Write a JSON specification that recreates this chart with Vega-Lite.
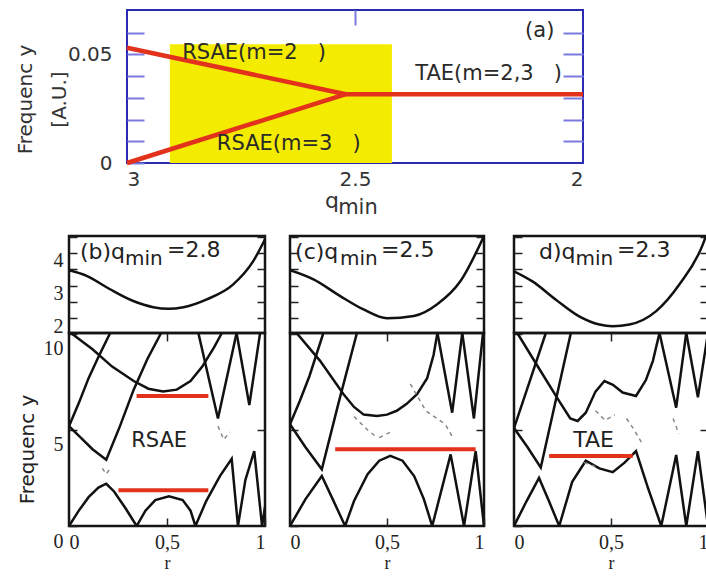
{
"$schema": "https://vega.github.io/schema/vega-lite/v6.json",
"background": "white",
"padding": {"left": 12, "top": 8, "right": 0, "bottom": 0},
"spacing": 13,
"config": {
  "view": {"stroke": "#151515", "strokeWidth": 2.5},
  "axis": {"domain": false, "grid": false, "tickColor": "#222", "tickWidth": 1.5, "labelFont": "Liberation Serif", "labelFontSize": 20, "labelColor": "#222", "labelOverlap": false, "labelBound": false, "titleFont": "DejaVu Sans", "titleFontWeight": "normal", "titleColor": "#222"},
  "text": {"font": "DejaVu Sans", "color": "#222"}
},
"datasets": {
  "aRed": [
    {"s": "u", "q": 3.0, "f": 0.0531}, {"s": "u", "q": 2.52, "f": 0.0317},
    {"s": "l", "q": 3.0, "f": 0.0}, {"s": "l", "q": 2.52, "f": 0.0317},
    {"s": "h", "q": 2.52, "f": 0.0317}, {"s": "h", "q": 2.0, "f": 0.0317}
  ],
  "aText": [
    {"t": "RSAE(m=2\u00a0\u00a0\u00a0)", "q": 2.879, "f": 0.0508},
    {"t": "RSAE(m=3\u00a0\u00a0\u00a0)", "q": 2.803, "f": 0.0086},
    {"t": "TAE(m=2,3\u00a0\u00a0\u00a0)", "q": 2.368, "f": 0.0409},
    {"t": "(a)", "q": 2.127, "f": 0.0608}
  ],
  "bq": [{"r": 0, "q": 3.47}, {"r": 0.09, "q": 3.30}, {"r": 0.209, "q": 2.89}, {"r": 0.328, "q": 2.53}, {"r": 0.43, "q": 2.34}, {"r": 0.507, "q": 2.29}, {"r": 0.584, "q": 2.34}, {"r": 0.703, "q": 2.58}, {"r": 0.838, "q": 3.04}, {"r": 0.94, "q": 3.75}, {"r": 1.0, "q": 4.42}],
  "cq": [{"r": 0, "q": 3.47}, {"r": 0.121, "q": 3.19}, {"r": 0.259, "q": 2.68}, {"r": 0.379, "q": 2.27}, {"r": 0.5, "q": 2.0}, {"r": 0.638, "q": 2.07}, {"r": 0.759, "q": 2.43}, {"r": 0.879, "q": 3.14}, {"r": 1.0, "q": 4.52}],
  "dq": [{"r": 0, "q": 3.44}, {"r": 0.095, "q": 3.13}, {"r": 0.216, "q": 2.57}, {"r": 0.336, "q": 2.06}, {"r": 0.44, "q": 1.81}, {"r": 0.509, "q": 1.76}, {"r": 0.595, "q": 1.81}, {"r": 0.733, "q": 2.22}, {"r": 0.853, "q": 3.04}, {"r": 0.974, "q": 4.27}, {"r": 1.0, "q": 4.7}],
  "bc": [
    {"s": 1, "r": 0, "f": 5.2}, {"s": 1, "r": 0.05, "f": 6.4}, {"s": 1, "r": 0.1, "f": 7.7}, {"s": 1, "r": 0.15, "f": 8.8}, {"s": 1, "r": 0.21, "f": 10.05},
    {"s": 2, "r": 0, "f": 5.2}, {"s": 2, "r": 0.06, "f": 4.6}, {"s": 2, "r": 0.12, "f": 4.0}, {"s": 2, "r": 0.19, "f": 3.45}, {"s": 2, "r": 0.26, "f": 5.2}, {"s": 2, "r": 0.33, "f": 7.1}, {"s": 2, "r": 0.4, "f": 8.7}, {"s": 2, "r": 0.47, "f": 10.05},
    {"s": 3, "r": 0.01, "f": 10.05}, {"s": 3, "r": 0.12, "f": 9.2}, {"s": 3, "r": 0.22, "f": 8.3}, {"s": 3, "r": 0.33, "f": 7.55}, {"s": 3, "r": 0.405, "f": 7.15}, {"s": 3, "r": 0.48, "f": 7.0}, {"s": 3, "r": 0.55, "f": 7.1}, {"s": 3, "r": 0.62, "f": 7.55}, {"s": 3, "r": 0.68, "f": 8.3}, {"s": 3, "r": 0.74, "f": 9.3}, {"s": 3, "r": 0.78, "f": 10.05},
    {"s": 4, "r": 0.66, "f": 10.05}, {"s": 4, "r": 0.76, "f": 5.6}, {"s": 4, "r": 0.855, "f": 10.05},
    {"s": 5, "r": 0.855, "f": 10.05}, {"s": 5, "r": 0.92, "f": 6.3}, {"s": 5, "r": 0.975, "f": 10.05},
    {"s": 6, "r": 0, "f": 0}, {"s": 6, "r": 0.05, "f": 0.8}, {"s": 6, "r": 0.1, "f": 1.5}, {"s": 6, "r": 0.15, "f": 2.0}, {"s": 6, "r": 0.19, "f": 2.2}, {"s": 6, "r": 0.23, "f": 1.8}, {"s": 6, "r": 0.29, "f": 0.9}, {"s": 6, "r": 0.345, "f": 0}, {"s": 6, "r": 0.39, "f": 0.8}, {"s": 6, "r": 0.44, "f": 1.35}, {"s": 6, "r": 0.51, "f": 1.55}, {"s": 6, "r": 0.58, "f": 1.35}, {"s": 6, "r": 0.62, "f": 0.8}, {"s": 6, "r": 0.645, "f": 0}, {"s": 6, "r": 0.7, "f": 1.3}, {"s": 6, "r": 0.77, "f": 2.6}, {"s": 6, "r": 0.83, "f": 3.5}, {"s": 6, "r": 0.862, "f": 0}, {"s": 6, "r": 0.9, "f": 2.4}, {"s": 6, "r": 0.945, "f": 3.9}, {"s": 6, "r": 0.985, "f": 0}, {"s": 6, "r": 1.0, "f": 1.0}
  ],
  "cc": [
    {"s": 1, "r": 0, "f": 5.3}, {"s": 1, "r": 0.05, "f": 6.5}, {"s": 1, "r": 0.1, "f": 7.8}, {"s": 1, "r": 0.172, "f": 10.05},
    {"s": 2, "r": 0, "f": 5.3}, {"s": 2, "r": 0.08, "f": 4.1}, {"s": 2, "r": 0.164, "f": 2.95}, {"s": 2, "r": 0.25, "f": 6.4}, {"s": 2, "r": 0.345, "f": 10.05},
    {"s": 3, "r": 0.034, "f": 10.05}, {"s": 3, "r": 0.155, "f": 8.6}, {"s": 3, "r": 0.276, "f": 6.86}, {"s": 3, "r": 0.33, "f": 6.2}, {"s": 3, "r": 0.38, "f": 5.8}, {"s": 3, "r": 0.448, "f": 5.73}, {"s": 3, "r": 0.5, "f": 5.8}, {"s": 3, "r": 0.55, "f": 6.0}, {"s": 3, "r": 0.6, "f": 6.35}, {"s": 3, "r": 0.655, "f": 6.86}, {"s": 3, "r": 0.707, "f": 7.7}, {"s": 3, "r": 0.74, "f": 8.9}, {"s": 3, "r": 0.76, "f": 10.05},
    {"s": 4, "r": 0.76, "f": 10.05}, {"s": 4, "r": 0.836, "f": 5.9}, {"s": 4, "r": 0.888, "f": 10.05},
    {"s": 5, "r": 0.888, "f": 10.05}, {"s": 5, "r": 0.948, "f": 5.6}, {"s": 5, "r": 0.995, "f": 10.05},
    {"s": 6, "r": 0, "f": 0}, {"s": 6, "r": 0.08, "f": 1.4}, {"s": 6, "r": 0.164, "f": 2.6}, {"s": 6, "r": 0.22, "f": 1.4}, {"s": 6, "r": 0.284, "f": 0}, {"s": 6, "r": 0.33, "f": 1.3}, {"s": 6, "r": 0.4, "f": 2.7}, {"s": 6, "r": 0.46, "f": 3.4}, {"s": 6, "r": 0.517, "f": 3.65}, {"s": 6, "r": 0.58, "f": 3.4}, {"s": 6, "r": 0.64, "f": 2.6}, {"s": 6, "r": 0.69, "f": 1.4}, {"s": 6, "r": 0.733, "f": 0}, {"s": 6, "r": 0.828, "f": 3.73}, {"s": 6, "r": 0.897, "f": 0}, {"s": 6, "r": 0.957, "f": 3.9}, {"s": 6, "r": 1.0, "f": 0}
  ],
  "dc": [
    {"s": 1, "r": 0, "f": 5.1}, {"s": 1, "r": 0.08, "f": 7.5}, {"s": 1, "r": 0.164, "f": 10.05},
    {"s": 2, "r": 0, "f": 5.1}, {"s": 2, "r": 0.07, "f": 4.1}, {"s": 2, "r": 0.138, "f": 3.04}, {"s": 2, "r": 0.21, "f": 6.3}, {"s": 2, "r": 0.293, "f": 10.05},
    {"s": 3, "r": 0.017, "f": 10.05}, {"s": 3, "r": 0.129, "f": 8.2}, {"s": 3, "r": 0.233, "f": 6.5}, {"s": 3, "r": 0.29, "f": 5.6}, {"s": 3, "r": 0.328, "f": 5.47}, {"s": 3, "r": 0.37, "f": 5.9}, {"s": 3, "r": 0.42, "f": 7.0}, {"s": 3, "r": 0.466, "f": 7.55}, {"s": 3, "r": 0.51, "f": 7.35}, {"s": 3, "r": 0.56, "f": 6.95}, {"s": 3, "r": 0.629, "f": 6.77}, {"s": 3, "r": 0.68, "f": 7.6}, {"s": 3, "r": 0.716, "f": 8.6}, {"s": 3, "r": 0.75, "f": 10.05},
    {"s": 4, "r": 0.75, "f": 10.05}, {"s": 4, "r": 0.836, "f": 6.16}, {"s": 4, "r": 0.888, "f": 10.05},
    {"s": 5, "r": 0.888, "f": 10.05}, {"s": 5, "r": 0.948, "f": 6.7}, {"s": 5, "r": 1.0, "f": 10.05},
    {"s": 6, "r": 0, "f": 0}, {"s": 6, "r": 0.065, "f": 1.3}, {"s": 6, "r": 0.129, "f": 2.5}, {"s": 6, "r": 0.18, "f": 1.3}, {"s": 6, "r": 0.233, "f": 0}, {"s": 6, "r": 0.3, "f": 2.3}, {"s": 6, "r": 0.37, "f": 3.4}, {"s": 6, "r": 0.44, "f": 3.0}, {"s": 6, "r": 0.509, "f": 2.8}, {"s": 6, "r": 0.57, "f": 3.3}, {"s": 6, "r": 0.629, "f": 3.9}, {"s": 6, "r": 0.69, "f": 2.0}, {"s": 6, "r": 0.759, "f": 0}, {"s": 6, "r": 0.836, "f": 3.7}, {"s": 6, "r": 0.888, "f": 0}, {"s": 6, "r": 0.948, "f": 3.9}, {"s": 6, "r": 1.0, "f": 0}
  ],
  "bd": [
    {"s": 1, "r": 0.76, "f": 5.2}, {"s": 1, "r": 0.79, "f": 4.5}, {"s": 1, "r": 0.82, "f": 4.9},
    {"s": 2, "r": 0.17, "f": 3.0}, {"s": 2, "r": 0.19, "f": 2.7}, {"s": 2, "r": 0.21, "f": 3.0}
  ],
  "cd": [
    {"s": 1, "r": 0.33, "f": 5.7}, {"s": 1, "r": 0.4, "f": 5.0}, {"s": 1, "r": 0.45, "f": 4.6},
    {"s": 2, "r": 0.46, "f": 4.6}, {"s": 2, "r": 0.52, "f": 4.9},
    {"s": 3, "r": 0.62, "f": 7.4}, {"s": 3, "r": 0.7, "f": 6.0}, {"s": 3, "r": 0.8, "f": 5.3}, {"s": 3, "r": 0.84, "f": 4.6}
  ],
  "dd": [
    {"s": 1, "r": 0.42, "f": 6.0}, {"s": 1, "r": 0.47, "f": 5.5}, {"s": 1, "r": 0.52, "f": 5.8},
    {"s": 2, "r": 0.58, "f": 5.6}, {"s": 2, "r": 0.62, "f": 5.0}, {"s": 2, "r": 0.66, "f": 4.3},
    {"s": 3, "r": 0.82, "f": 5.6}, {"s": 3, "r": 0.85, "f": 4.8},
    {"s": 4, "r": 0.36, "f": 3.3}, {"s": 4, "r": 0.42, "f": 3.1}
  ],
  "red": [
    {"p": "b", "r1": 0.345, "r2": 0.711, "f": 6.77},
    {"p": "b", "r1": 0.252, "r2": 0.711, "f": 1.86},
    {"p": "c", "r1": 0.233, "r2": 0.957, "f": 4.0},
    {"p": "d", "r1": 0.181, "r2": 0.612, "f": 3.65}
  ],
  "ctext": [
    {"p": "b", "t": "RSAE", "r": 0.46, "f": 4.43},
    {"p": "d", "t": "TAE", "r": 0.41, "f": 4.5}
  ],
  "qlab": [
    {"p": "b", "t": "(b)q", "r": 0.056, "q": 4.02},
    {"p": "b", "t": "=2.8", "r": 0.5, "q": 4.1},
    {"p": "c", "t": "(c)q", "r": 0.026, "q": 4.02},
    {"p": "c", "t": "=2.5", "r": 0.469, "q": 4.1},
    {"p": "d", "t": "d)q", "r": 0.129, "q": 4.02},
    {"p": "d", "t": "=2.3", "r": 0.531, "q": 4.1}
  ],
  "qsub": [
    {"p": "b", "t": "min", "r": 0.286, "q": 3.82},
    {"p": "c", "t": "min", "r": 0.258, "q": 3.82},
    {"p": "d", "t": "min", "r": 0.317, "q": 3.82}
  ]
},
"vconcat": [
  {
    "bounds": "flush",
    "spacing": 20,
    "hconcat": [
      {
        "width": 38, "height": 153,
        "view": {"stroke": null},
        "data": {"values": [{"a": 0}]},
        "mark": {"type": "point", "opacity": 0},
        "encoding": {
          "x": {"field": "a", "type": "quantitative", "axis": null},
          "y": {"field": "a", "type": "quantitative", "axis": null}
        }
      },
      {
        "width": 456, "height": 153,
        "view": {"stroke": "#2b2bb0", "strokeWidth": 2},
        "layer": [
          {
            "data": {"values": [{"q1": 2.906, "q2": 2.419, "f1": 0, "f2": 0.0547}]},
            "mark": {"type": "rect", "color": "#f4ec00"},
            "encoding": {
              "x": {"field": "q1", "type": "quantitative", "scale": {"domain": [2, 3], "reverse": true, "nice": false, "zero": false},
                    "axis": {"orient": "bottom", "values": [3, 2.5, 2], "labelExpr": "toString(datum.value)", "ticks": false, "labelPadding": 6, "labelFont": "DejaVu Sans", "labelFontSize": 20, "labelColor": "#333", "title": null}},
              "x2": {"field": "q2"},
              "y": {"field": "f1", "type": "quantitative", "scale": {"domain": [0, 0.0705], "nice": false, "zero": false},
                    "axis": {"orient": "left", "values": [0, 0.01, 0.02, 0.03, 0.04, 0.05, 0.06], "labelExpr": "datum.value == 0 ? '0' : (datum.value == 0.05 ? '0.05' : '')", "tickSize": -17, "tickColor": "#7a7ae0", "tickWidth": 2, "labelPadding": 32, "labelFont": "DejaVu Sans", "labelFontSize": 20, "labelColor": "#333",
                             "title": ["Frequenc y", "[A.U.]"], "titleFontSize": 20, "titleLineHeight": 34, "titleX": -92, "titleY": 89, "titleBaseline": "bottom", "titleColor": "#333"}},
              "y2": {"field": "f2"}
            }
          },
          {
            "data": {"name": "aRed"},
            "mark": {"type": "line", "color": "#e3321c", "strokeWidth": 4.5},
            "encoding": {
              "x": {"field": "q", "type": "quantitative", "scale": {"domain": [2, 3], "reverse": true, "nice": false, "zero": false},
                    "axis": {"orient": "top", "values": [2.5], "tickSize": -15, "tickColor": "#7a7ae0", "tickWidth": 2, "labels": false, "title": null}},
              "y": {"field": "f", "type": "quantitative", "scale": {"domain": [0, 0.0705], "nice": false, "zero": false},
                    "axis": {"orient": "right", "values": [0.01, 0.02, 0.03, 0.04, 0.05, 0.06], "tickSize": -20, "tickColor": "#7a7ae0", "tickWidth": 2, "labels": false, "title": null}},
              "detail": {"field": "s"}
            }
          },
          {
            "data": {"name": "aText"},
            "mark": {"type": "text", "align": "left", "baseline": "middle", "fontSize": 21, "color": "#2a2a2a"},
            "encoding": {
              "x": {"field": "q", "type": "quantitative", "scale": {"domain": [2, 3], "reverse": true, "nice": false, "zero": false}, "axis": null},
              "y": {"field": "f", "type": "quantitative", "scale": {"domain": [0, 0.0705], "nice": false, "zero": false}, "axis": null},
              "text": {"field": "t"}
            }
          },
          {
            "data": {"values": [{"t": "q", "q": 2.566, "f": -0.0207}]},
            "mark": {"type": "text", "align": "left", "baseline": "alphabetic", "fontSize": 22, "color": "#333"},
            "encoding": {
              "x": {"field": "q", "type": "quantitative", "scale": {"domain": [2, 3], "reverse": true, "nice": false, "zero": false}, "axis": null},
              "y": {"field": "f", "type": "quantitative", "scale": {"domain": [0, 0.0705], "nice": false, "zero": false}, "axis": null},
              "text": {"field": "t"}
            }
          },
          {
            "data": {"values": [{"t": "min", "q": 2.537, "f": -0.0235}]},
            "mark": {"type": "text", "align": "left", "baseline": "alphabetic", "fontSize": 21, "color": "#333"},
            "encoding": {
              "x": {"field": "q", "type": "quantitative", "scale": {"domain": [2, 3], "reverse": true, "nice": false, "zero": false}, "axis": null},
              "y": {"field": "f", "type": "quantitative", "scale": {"domain": [0, 0.0705], "nice": false, "zero": false}, "axis": null},
              "text": {"field": "t"}
            }
          }
        ],
        "resolve": {"axis": {"x": "independent", "y": "independent"}}
      }
    ]
  },
  {
    "spacing": 11,
    "vconcat": [
      {
        "spacing": 21,
        "hconcat": [
          {
            "bounds": "flush", "spacing": 0,
            "vconcat": [
              {
                "width": 196, "height": 97,
                "layer": [
                  {
                    "data": {"name": "bq"},
                    "mark": {"type": "line", "color": "#111", "strokeWidth": 2.5, "clip": true, "interpolate": "monotone"},
                    "encoding": {
                      "x": {"field": "r", "type": "quantitative", "scale": {"domain": [0, 1], "nice": false, "zero": false}, "axis": null},
                      "y": {"field": "q", "type": "quantitative", "scale": {"domain": [1.55, 4.52], "nice": false, "zero": false},
                            "axis": {"orient": "left", "values": [2, 2.5, 3, 3.5, 4, 4.5], "tickSize": -8, "labelExpr": "datum.value % 1 == 0 ? toString(datum.value) : ''", "labelOffset": 8, "labelPadding": 14, "title": null}}
                    }
                  },
                  {
                    "data": {"name": "qlab"},
                    "transform": [{"filter": "datum.p == 'b'"}],
                    "mark": {"type": "text", "align": "left", "baseline": "middle", "fontSize": 22},
                    "encoding": {
                      "x": {"field": "r", "type": "quantitative", "scale": {"domain": [0, 1], "nice": false, "zero": false}, "axis": null},
                      "y": {"field": "q", "type": "quantitative", "scale": {"domain": [1.55, 4.52], "nice": false, "zero": false},
                            "axis": {"orient": "right", "values": [2, 2.5, 3, 3.5, 4, 4.5], "tickSize": -8, "labels": false, "title": null}},
                      "text": {"field": "t"}
                    }
                  },
                  {
                    "data": {"name": "qsub"},
                    "transform": [{"filter": "datum.p == 'b'"}],
                    "mark": {"type": "text", "align": "left", "baseline": "middle", "fontSize": 20},
                    "encoding": {
                      "x": {"field": "r", "type": "quantitative", "scale": {"domain": [0, 1], "nice": false, "zero": false}, "axis": null},
                      "y": {"field": "q", "type": "quantitative", "scale": {"domain": [1.55, 4.52], "nice": false, "zero": false}, "axis": null},
                      "text": {"field": "t"}
                    }
                  }
                ],
                "resolve": {"axis": {"y": "independent"}}
              },
              {
                "width": 196, "height": 193,
                "layer": [
                  {
                    "data": {"name": "bc"},
                    "mark": {"type": "line", "color": "#111", "strokeWidth": 2.5, "clip": true},
                    "encoding": {
                      "x": {"field": "r", "type": "quantitative", "scale": {"domain": [0, 1], "nice": false, "zero": false},
                            "axis": {"orient": "bottom", "values": [0, 0.5, 1], "labelExpr": "replace(toString(datum.value), '.', ',')", "labelFlush": true, "tickSize": -8, "labelPadding": 14, "title": "r", "titleFont": "Liberation Serif", "titleFontSize": 18, "titlePadding": 2}},
                      "y": {"field": "f", "type": "quantitative", "scale": {"domain": [0, 10.05], "nice": false, "zero": false},
                            "axis": {"orient": "left", "values": [0, 5, 10], "tickSize": -8, "labelOffset": 15, "labelPadding": 14, "title": "Frequenc y", "titleFontSize": 20, "titleX": -32, "titleY": 116, "titleBaseline": "bottom"}},
                      "detail": {"field": "s"}
                    }
                  },
                  {
                    "data": {"name": "bd"},
                    "mark": {"type": "line", "color": "#888", "strokeWidth": 1.5, "strokeDash": [4, 4], "clip": true},
                    "encoding": {
                      "x": {"field": "r", "type": "quantitative", "scale": {"domain": [0, 1], "nice": false, "zero": false}, "axis": null},
                      "y": {"field": "f", "type": "quantitative", "scale": {"domain": [0, 10.05], "nice": false, "zero": false}, "axis": null},
                      "detail": {"field": "s"}
                    }
                  },
                  {
                    "data": {"name": "red"},
                    "transform": [{"filter": "datum.p == 'b'"}],
                    "mark": {"type": "rule", "color": "#e3321c", "strokeWidth": 4},
                    "encoding": {
                      "x": {"field": "r1", "type": "quantitative", "scale": {"domain": [0, 1], "nice": false, "zero": false},
                            "axis": {"orient": "top", "values": [0.5], "tickSize": -8, "labels": false, "title": null}},
                      "x2": {"field": "r2"},
                      "y": {"field": "f", "type": "quantitative", "scale": {"domain": [0, 10.05], "nice": false, "zero": false},
                            "axis": {"orient": "right", "values": [5], "tickSize": -8, "labels": false, "title": null}}
                    }
                  },
                  {
                    "data": {"name": "ctext"},
                    "transform": [{"filter": "datum.p == 'b'"}],
                    "mark": {"type": "text", "align": "center", "baseline": "middle", "fontSize": 21},
                    "encoding": {
                      "x": {"field": "r", "type": "quantitative", "scale": {"domain": [0, 1], "nice": false, "zero": false}, "axis": null},
                      "y": {"field": "f", "type": "quantitative", "scale": {"domain": [0, 10.05], "nice": false, "zero": false}, "axis": null},
                      "text": {"field": "t"}
                    }
                  }
                ],
                "resolve": {"axis": {"x": "independent", "y": "independent"}}
              }
            ]
          },
          {
            "spacing": 26,
            "hconcat": [
              {
                "bounds": "flush", "spacing": 0,
                "vconcat": [
                  {
                    "width": 194, "height": 97,
                    "layer": [
                      {
                        "data": {"name": "cq"},
                        "mark": {"type": "line", "color": "#111", "strokeWidth": 2.5, "clip": true, "interpolate": "monotone"},
                        "encoding": {
                          "x": {"field": "r", "type": "quantitative", "scale": {"domain": [0, 1], "nice": false, "zero": false}, "axis": null},
                          "y": {"field": "q", "type": "quantitative", "scale": {"domain": [1.55, 4.52], "nice": false, "zero": false},
                                "axis": {"orient": "left", "values": [2, 2.5, 3, 3.5, 4, 4.5], "tickSize": -8, "labels": false, "title": null}}
                        }
                      },
                      {
                        "data": {"name": "qlab"},
                        "transform": [{"filter": "datum.p == 'c'"}],
                        "mark": {"type": "text", "align": "left", "baseline": "middle", "fontSize": 22},
                        "encoding": {
                          "x": {"field": "r", "type": "quantitative", "scale": {"domain": [0, 1], "nice": false, "zero": false}, "axis": null},
                          "y": {"field": "q", "type": "quantitative", "scale": {"domain": [1.55, 4.52], "nice": false, "zero": false},
                                "axis": {"orient": "right", "values": [2, 2.5, 3, 3.5, 4, 4.5], "tickSize": -8, "labels": false, "title": null}},
                          "text": {"field": "t"}
                        }
                      },
                      {
                        "data": {"name": "qsub"},
                        "transform": [{"filter": "datum.p == 'c'"}],
                        "mark": {"type": "text", "align": "left", "baseline": "middle", "fontSize": 20},
                        "encoding": {
                          "x": {"field": "r", "type": "quantitative", "scale": {"domain": [0, 1], "nice": false, "zero": false}, "axis": null},
                          "y": {"field": "q", "type": "quantitative", "scale": {"domain": [1.55, 4.52], "nice": false, "zero": false}, "axis": null},
                          "text": {"field": "t"}
                        }
                      }
                    ],
                    "resolve": {"axis": {"y": "independent"}}
                  },
                  {
                    "width": 194, "height": 193,
                    "layer": [
                      {
                        "data": {"name": "cc"},
                        "mark": {"type": "line", "color": "#111", "strokeWidth": 2.5, "clip": true},
                        "encoding": {
                          "x": {"field": "r", "type": "quantitative", "scale": {"domain": [0, 1], "nice": false, "zero": false},
                                "axis": {"orient": "bottom", "values": [0, 0.5, 1], "labelExpr": "replace(toString(datum.value), '.', ',')", "labelFlush": true, "tickSize": -8, "labelPadding": 14, "title": "r", "titleFont": "Liberation Serif", "titleFontSize": 18, "titlePadding": 2}},
                          "y": {"field": "f", "type": "quantitative", "scale": {"domain": [0, 10.05], "nice": false, "zero": false},
                                "axis": {"orient": "left", "values": [0, 5, 10], "tickSize": -8, "labels": false, "title": null}},
                          "detail": {"field": "s"}
                        }
                      },
                      {
                        "data": {"name": "cd"},
                        "mark": {"type": "line", "color": "#888", "strokeWidth": 1.5, "strokeDash": [4, 4], "clip": true},
                        "encoding": {
                          "x": {"field": "r", "type": "quantitative", "scale": {"domain": [0, 1], "nice": false, "zero": false}, "axis": null},
                          "y": {"field": "f", "type": "quantitative", "scale": {"domain": [0, 10.05], "nice": false, "zero": false}, "axis": null},
                          "detail": {"field": "s"}
                        }
                      },
                      {
                        "data": {"name": "red"},
                        "transform": [{"filter": "datum.p == 'c'"}],
                        "mark": {"type": "rule", "color": "#e3321c", "strokeWidth": 4},
                        "encoding": {
                          "x": {"field": "r1", "type": "quantitative", "scale": {"domain": [0, 1], "nice": false, "zero": false},
                                "axis": {"orient": "top", "values": [0.5], "tickSize": -8, "labels": false, "title": null}},
                          "x2": {"field": "r2"},
                          "y": {"field": "f", "type": "quantitative", "scale": {"domain": [0, 10.05], "nice": false, "zero": false},
                                "axis": {"orient": "right", "values": [5], "tickSize": -8, "labels": false, "title": null}}
                        }
                      }
                    ],
                    "resolve": {"axis": {"x": "independent", "y": "independent"}}
                  }
                ]
              },
              {
                "bounds": "flush", "spacing": 0,
                "vconcat": [
                  {
                    "width": 194, "height": 97,
                    "layer": [
                      {
                        "data": {"name": "dq"},
                        "mark": {"type": "line", "color": "#111", "strokeWidth": 2.5, "clip": true, "interpolate": "monotone"},
                        "encoding": {
                          "x": {"field": "r", "type": "quantitative", "scale": {"domain": [0, 1], "nice": false, "zero": false}, "axis": null},
                          "y": {"field": "q", "type": "quantitative", "scale": {"domain": [1.55, 4.52], "nice": false, "zero": false},
                                "axis": {"orient": "left", "values": [2, 2.5, 3, 3.5, 4, 4.5], "tickSize": -8, "labels": false, "title": null}}
                        }
                      },
                      {
                        "data": {"name": "qlab"},
                        "transform": [{"filter": "datum.p == 'd'"}],
                        "mark": {"type": "text", "align": "left", "baseline": "middle", "fontSize": 22},
                        "encoding": {
                          "x": {"field": "r", "type": "quantitative", "scale": {"domain": [0, 1], "nice": false, "zero": false}, "axis": null},
                          "y": {"field": "q", "type": "quantitative", "scale": {"domain": [1.55, 4.52], "nice": false, "zero": false},
                                "axis": {"orient": "right", "values": [2, 2.5, 3, 3.5, 4, 4.5], "tickSize": -8, "labels": false, "title": null}},
                          "text": {"field": "t"}
                        }
                      },
                      {
                        "data": {"name": "qsub"},
                        "transform": [{"filter": "datum.p == 'd'"}],
                        "mark": {"type": "text", "align": "left", "baseline": "middle", "fontSize": 20},
                        "encoding": {
                          "x": {"field": "r", "type": "quantitative", "scale": {"domain": [0, 1], "nice": false, "zero": false}, "axis": null},
                          "y": {"field": "q", "type": "quantitative", "scale": {"domain": [1.55, 4.52], "nice": false, "zero": false}, "axis": null},
                          "text": {"field": "t"}
                        }
                      }
                    ],
                    "resolve": {"axis": {"y": "independent"}}
                  },
                  {
                    "width": 194, "height": 193,
                    "layer": [
                      {
                        "data": {"name": "dc"},
                        "mark": {"type": "line", "color": "#111", "strokeWidth": 2.5, "clip": true},
                        "encoding": {
                          "x": {"field": "r", "type": "quantitative", "scale": {"domain": [0, 1], "nice": false, "zero": false},
                                "axis": {"orient": "bottom", "values": [0, 0.5, 1], "labelExpr": "replace(toString(datum.value), '.', ',')", "labelFlush": true, "tickSize": -8, "labelPadding": 14, "title": "r", "titleFont": "Liberation Serif", "titleFontSize": 18, "titlePadding": 2}},
                          "y": {"field": "f", "type": "quantitative", "scale": {"domain": [0, 10.05], "nice": false, "zero": false},
                                "axis": {"orient": "left", "values": [0, 5, 10], "tickSize": -8, "labels": false, "title": null}},
                          "detail": {"field": "s"}
                        }
                      },
                      {
                        "data": {"name": "dd"},
                        "mark": {"type": "line", "color": "#888", "strokeWidth": 1.5, "strokeDash": [4, 4], "clip": true},
                        "encoding": {
                          "x": {"field": "r", "type": "quantitative", "scale": {"domain": [0, 1], "nice": false, "zero": false}, "axis": null},
                          "y": {"field": "f", "type": "quantitative", "scale": {"domain": [0, 10.05], "nice": false, "zero": false}, "axis": null},
                          "detail": {"field": "s"}
                        }
                      },
                      {
                        "data": {"name": "red"},
                        "transform": [{"filter": "datum.p == 'd'"}],
                        "mark": {"type": "rule", "color": "#e3321c", "strokeWidth": 4},
                        "encoding": {
                          "x": {"field": "r1", "type": "quantitative", "scale": {"domain": [0, 1], "nice": false, "zero": false},
                                "axis": {"orient": "top", "values": [0.5], "tickSize": -8, "labels": false, "title": null}},
                          "x2": {"field": "r2"},
                          "y": {"field": "f", "type": "quantitative", "scale": {"domain": [0, 10.05], "nice": false, "zero": false},
                                "axis": {"orient": "right", "values": [5], "tickSize": -8, "labels": false, "title": null}}
                        }
                      },
                      {
                        "data": {"name": "ctext"},
                        "transform": [{"filter": "datum.p == 'd'"}],
                        "mark": {"type": "text", "align": "center", "baseline": "middle", "fontSize": 22},
                        "encoding": {
                          "x": {"field": "r", "type": "quantitative", "scale": {"domain": [0, 1], "nice": false, "zero": false}, "axis": null},
                          "y": {"field": "f", "type": "quantitative", "scale": {"domain": [0, 10.05], "nice": false, "zero": false}, "axis": null},
                          "text": {"field": "t"}
                        }
                      }
                    ],
                    "resolve": {"axis": {"x": "independent", "y": "independent"}}
                  }
                ]
              }
            ]
          }
        ]
      },
      {
        "width": 690, "height": 1,
        "view": {"stroke": null},
        "data": {"values": [{"a": -0.078, "b": 1, "y": 0}]},
        "mark": {"type": "rule", "color": "#000", "strokeWidth": 5},
        "encoding": {
          "x": {"field": "a", "type": "quantitative", "scale": {"domain": [0, 1]}, "axis": null},
          "x2": {"field": "b"},
          "y": {"field": "y", "type": "quantitative", "scale": {"domain": [0, 1]}, "axis": null}
        }
      }
    ]
  }
]
}
